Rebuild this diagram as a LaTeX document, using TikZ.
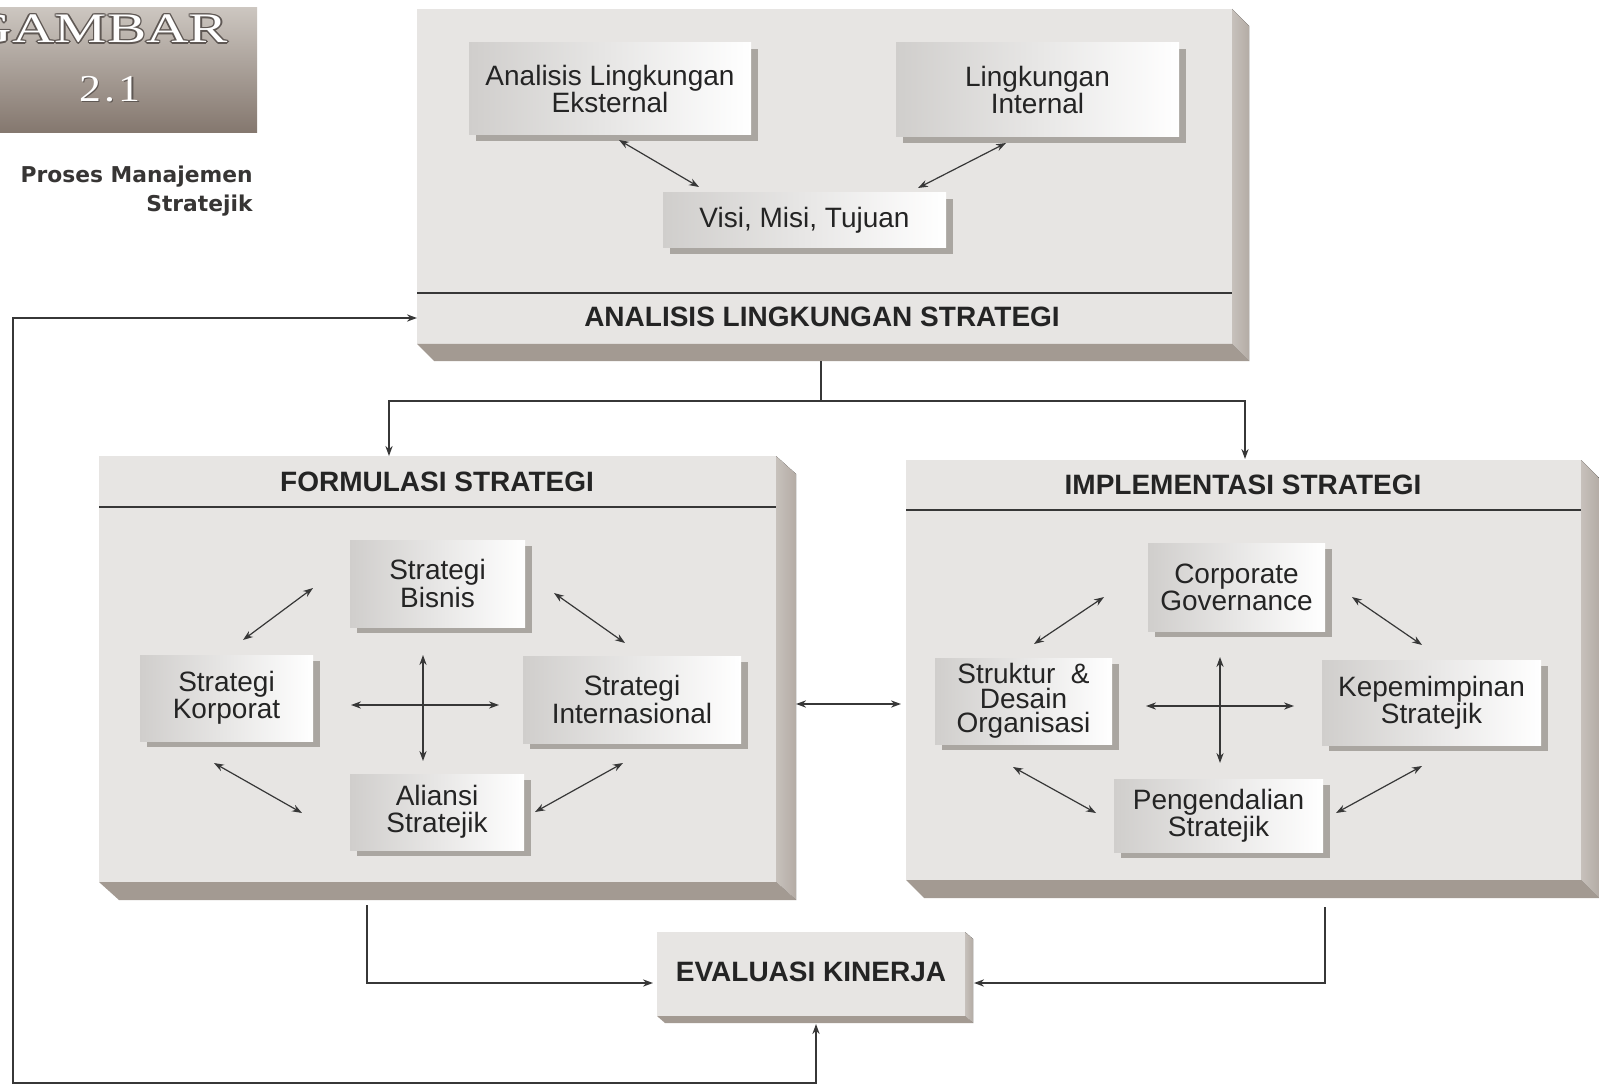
\documentclass[tikz,border=0pt]{standalone}
\usepackage{graphicx}
\usepackage{fontspec}
\setmainfont{Liberation Sans}
\newfontfamily\gbserif{Liberation Serif}
\newfontfamily\captfont{DejaVu Sans}
\usetikzlibrary{arrows.meta,shadows}
\definecolor{panelgray}{RGB}{231,229,227}
\definecolor{boxleft}{RGB}{208,206,204}
\definecolor{sidecol}{RGB}{180,172,165}
\definecolor{botcol}{RGB}{163,154,146}
\definecolor{shadowcol}{RGB}{150,145,140}
\definecolor{txtcol}{RGB}{36,36,36}
\definecolor{linecol}{RGB}{55,55,55}
\definecolor{gbtop}{RGB}{204,198,192}
\definecolor{gbbot}{RGB}{132,119,110}
\definecolor{gbline}{RGB}{95,88,84}
\definecolor{capcol}{RGB}{55,53,52}
\newcommand{\slabside}[3]{%
  \fill[extr] (#1.north east) -- ([shift={(#2,#3)}]#1.north east) -- ([shift={(#2,#3)}]#1.south east) -- (#1.south east) -- cycle;
  \fill[extb] (#1.south west) -- (#1.south east) -- ([shift={(#2,#3)}]#1.south east) -- ([shift={(#2,#3)}]#1.south west) -- cycle;}
\tikzset{
  face/.style={fill=panelgray, draw=none, inner sep=0pt, outer sep=0pt},
  ibox/.style={inner sep=0pt, outer sep=0pt, left color=boxleft, right color=white, draw=none,
    text=txtcol, align=center, font=\fontsize{14}{13.6}\selectfont,
    drop shadow={shadow xshift=3.5pt, shadow yshift=-3pt, fill=shadowcol, opacity=0.75}},
  ptitle/.style={text=txtcol, font=\bfseries\fontsize{14}{14}\selectfont, inner sep=0pt},
  extr/.style={left color=sidecol!75!white, right color=sidecol},
  extb/.style={fill=botcol},
  conn/.style={draw=linecol, line width=0.75pt},
  dbl/.style={draw=linecol, line width=0.6pt, {Stealth[length=5pt,width=3.6pt]}-{Stealth[length=5pt,width=3.6pt]}},
  oneway/.style={conn, -{Stealth[length=5pt,width=3.6pt]}},
  twoway/.style={conn, {Stealth[length=5pt,width=3.6pt]}-{Stealth[length=5pt,width=3.6pt]}},
  divider/.style={draw=linecol, line width=0.8pt},
  gbword/.style={inner sep=0pt, font=\gbserif\fontsize{21}{21}\selectfont},
  gbnum/.style={inner sep=0pt, font=\gbserif\fontsize{19}{19}\selectfont},
}
\begin{document}
\begin{tikzpicture}[x=0.5pt,y=-0.5pt]
\useasboundingbox (0,0) rectangle (1599,1085);
\fill[white] (0,0) rectangle (1599,1085);

% ---------- GAMBAR label ----------
\node[inner sep=0pt, top color=gbtop, bottom color=gbbot, minimum width=128.5pt, minimum height=62.5pt] (gbbox) at (128.5,70.5) {};
\begin{scope}
  \clip (0,8) rectangle (257,133);
  \foreach \dx/\dy [count=\k] in {-1.4/0,1.4/0,0/-1.4,0/1.4,-1/-1,1/1,1/-1,-1/1}
    \node[gbword, text=gbline] (gbo\k) at (99+\dx,29+\dy) {\scalebox{1.4}[1]{GAMBAR}};
  \node[gbword, text=white] (gbw) at (99,29) {\scalebox{1.4}[1]{GAMBAR}};
  \node[gbnum, text=gbline] (gbns) at (111.2,90.2) {\scalebox{1.15}[1]{2\kern1.5pt.\kern1.5pt1}};
  \node[gbnum, text=white] (gbn) at (110,89) {\scalebox{1.15}[1]{2\kern1.5pt.\kern1.5pt1}};
\end{scope}
\node[anchor=north east, align=right, inner sep=0pt, text=capcol,
      font=\captfont\bfseries\fontsize{10.9}{14.5}\selectfont] (cap) at (253,166) {Proses Manajemen\\Stratejik};

% ---------- panels ----------
\node[face, minimum width=407.5pt, minimum height=167.5pt] (top) at (824.5,176.5) {};
\slabside{top}{17}{17}
\node[face, minimum width=338.5pt, minimum height=213pt] (form) at (437.5,669) {};
\slabside{form}{20}{18}
\node[face, minimum width=337.5pt, minimum height=210pt] (impl) at (1243.5,670) {};
\slabside{impl}{18}{18}
\node[face, minimum width=154pt, minimum height=42pt] (eval) at (811,974) {};
\slabside{eval}{8}{7}

% dividers
\coordinate (tdl) at (417,293);
\draw[divider] (top.west |- tdl) -- (top.east |- tdl);
\coordinate (fdl) at (99,507);
\draw[divider] (form.west |- fdl) -- (form.east |- fdl);
\coordinate (idl) at (906,510);
\draw[divider] (impl.west |- idl) -- (impl.east |- idl);

% titles
\node[ptitle] (ttop) at (822,317) {ANALISIS LINGKUNGAN STRATEGI};
\node[ptitle] (tform) at (437,482) {FORMULASI STRATEGI};
\node[ptitle] (timpl) at (1243,485) {IMPLEMENTASI STRATEGI};
\node[ptitle] (teval) at (811,972) {EVALUASI KINERJA};

% ---------- inner boxes ----------
\node[ibox, minimum width=141pt, minimum height=46pt] (ext) at (610,89) {Analisis Lingkungan\\Eksternal};
\node[ibox, minimum width=141.5pt, minimum height=47pt] (int) at (1037.5,90) {Lingkungan\\Internal};
\node[ibox, minimum width=141.5pt, minimum height=27.5pt] (visi) at (804.5,220.5) {Visi, Misi, Tujuan};

\node[ibox, minimum width=87.5pt, minimum height=43.5pt] (bis) at (437.5,583.5) {Strategi\\Bisnis};
\node[ibox, minimum width=86.5pt, minimum height=43pt] (kor) at (226.5,698) {Strategi\\Korporat};
\node[ibox, minimum width=109pt, minimum height=43.5pt] (intl) at (632,699.5) {Strategi\\Internasional};
\node[ibox, minimum width=87pt, minimum height=38pt] (ali) at (437,812) {Aliansi\\Stratejik};

\node[ibox, minimum width=88.5pt, minimum height=44pt] (cg) at (1236.5,587) {Corporate\\Governance};
\node[ibox, minimum width=88.5pt, minimum height=43pt, font=\fontsize{14}{12.2}\selectfont] (str) at (1023.5,701) {Struktur~ \&\\Desain\\Organisasi};
\node[ibox, minimum width=109.5pt, minimum height=42.5pt] (kep) at (1431.5,702.5) {Kepemimpinan\\Stratejik};
\node[ibox, minimum width=104.5pt, minimum height=36.5pt] (pen) at (1218.5,815.5) {Pengendalian\\Stratejik};

% ---------- arrows inside panels ----------
\coordinate (a1s) at (619,140);  \coordinate (a1e) at (699,187);
\coordinate (a2s) at (1006,143); \coordinate (a2e) at (918,188);
\draw[dbl] (a1s) -- (a1e);
\draw[dbl] (a2s) -- (a2e);

\coordinate (f1s) at (313,588); \coordinate (f1e) at (243,640);
\coordinate (f2s) at (554,593); \coordinate (f2e) at (625,643);
\coordinate (f3s) at (214,763); \coordinate (f3e) at (302,813);
\coordinate (f4s) at (623,763); \coordinate (f4e) at (535,812);
\coordinate (f5s) at (423,655); \coordinate (f5e) at (423,761);
\coordinate (f6s) at (351,705); \coordinate (f6e) at (499,705);
\foreach \n in {1,...,6} \draw[dbl] (f\n s) -- (f\n e);

\coordinate (i1s) at (1104,597); \coordinate (i1e) at (1034,644);
\coordinate (i2s) at (1352,597); \coordinate (i2e) at (1422,645);
\coordinate (i3s) at (1013,767); \coordinate (i3e) at (1096,813);
\coordinate (i4s) at (1422,766); \coordinate (i4e) at (1336,813);
\coordinate (i5s) at (1220,657); \coordinate (i5e) at (1220,763);
\coordinate (i6s) at (1146,706); \coordinate (i6e) at (1294,706);
\foreach \n in {1,...,6} \draw[dbl] (i\n s) -- (i\n e);

% ---------- connectors between panels ----------
\coordinate (topout) at (821,361);
\coordinate (split) at (821,401);
\coordinate (formin) at (389,456);
\coordinate (implin) at (1245,459);
\draw[conn] (topout) -- (split);
\draw[oneway] (split) -| (formin);
\draw[oneway] (split) -| (implin);

\coordinate (fi-l) at (796,704);
\coordinate (fi-r) at (901,704);
\draw[twoway] (fi-l) -- (fi-r);

\coordinate (formout) at (367,905);
\coordinate (evin-l) at (653,983);
\draw[oneway] (formout) |- (evin-l);
\coordinate (implout) at (1325,907);
\coordinate (evin-r) at (974,983);
\draw[oneway] (implout) |- (evin-r);

\coordinate (evbot) at (816,1024);
\coordinate (loopbr) at (816,1083);
\coordinate (loopbl) at (13,1083);
\coordinate (looptl) at (13,318);
\coordinate (topin) at (417,318);
\draw[twoway] (evbot) -- (loopbr) -- (loopbl) -- (looptl) -- (topin);
\end{tikzpicture}
\end{document}
